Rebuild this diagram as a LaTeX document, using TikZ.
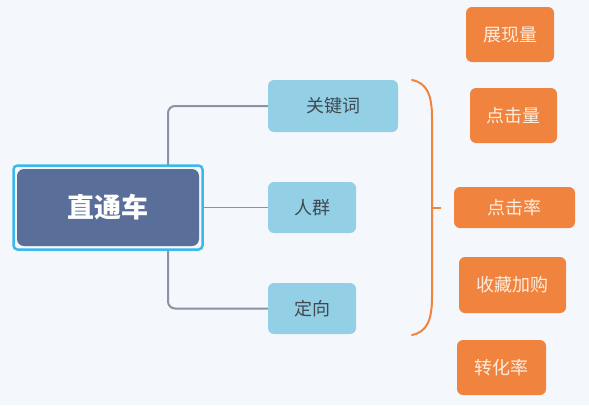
\documentclass[tikz,border=0pt]{standalone}
\usepackage{fontspec}
\newfontfamily\cjk{Noto Sans CJK SC}
\definecolor{bgc}{RGB}{244,248,252}
\definecolor{bluebox}{RGB}{147,208,230}
\definecolor{darkbox}{RGB}{89,111,153}
\definecolor{cyanb}{RGB}{60,184,236}
\definecolor{connc}{RGB}{138,147,166}
\definecolor{orangec}{RGB}{240,132,63}
\definecolor{bluetext}{RGB}{64,72,82}
\definecolor{oratext}{RGB}{253,236,222}
\begin{document}
\begin{tikzpicture}[x=1pt,y=-1pt,
  bluen/.style={fill=bluebox,rounded corners=6pt,inner sep=0pt,text=bluetext,font=\cjk\fontsize{18}{18}\selectfont},
  oran/.style={fill=orangec,rounded corners=6pt,inner sep=0pt,text=oratext,font=\cjk\fontsize{18}{18}\selectfont},
  conn/.style={draw=connc,line width=2pt,rounded corners=7pt},
  brk/.style={draw=orangec,line width=2pt,line cap=round}]
\fill[bgc] (0,0) rectangle (589,405);
\useasboundingbox (0,0) rectangle (589,405);
% blue nodes
\node[bluen,minimum width=130pt,minimum height=52pt] (kw) at (333,106) {关键词};
\node[bluen,minimum width=88pt,minimum height=51pt] (rq) at (312,207.5) {人群};
\node[bluen,minimum width=88pt,minimum height=51pt] (dx) at (312,308.5) {定向};
% connectors
\coordinate (jn) at (168,207);
\draw[conn] (kw.west) -| (jn) |- (dx.west);
\draw[draw=connc,line width=1.5pt] (199,207.5) -- (rq.west);
% main node
\node[draw=cyanb,line width=2.5pt,rounded corners=4pt,fill=bgc,minimum width=189pt,minimum height=84pt,inner sep=0pt] (outer) at (108,207.5) {};
\node[fill=darkbox,rounded corners=7pt,minimum width=182pt,minimum height=77pt,inner sep=0pt,text=white,font=\cjk\bfseries\fontsize{27}{27}\selectfont] (main) at (108,207.5) {直通车};
% orange nodes
\node[oran,minimum width=88pt,minimum height=55pt] (o1) at (510,34.5) {展现量};
\node[oran,minimum width=87pt,minimum height=55pt] (o2) at (513.5,115.5) {点击量};
\node[oran,minimum width=121pt,minimum height=41pt] (o3) at (514.5,207.5) {点击率};
\node[oran,minimum width=107pt,minimum height=56pt] (o4) at (512.5,285) {收藏加购};
\node[oran,minimum width=89pt,minimum height=55pt] (o5) at (501.5,367.5) {转化率};
% bracket
\coordinate (bt) at (412,80);
\coordinate (bb) at (412,335);
\coordinate (bm) at (432,207.5);
\coordinate (tk) at (441,207.5);
\draw[brk] (bt) .. controls (427,83) and (432,95) .. (432,118) -- (432,297) .. controls (432,320) and (427,332) .. (bb);
\draw[brk,line cap=butt] (bm) -- (tk);
\end{tikzpicture}
\end{document}
